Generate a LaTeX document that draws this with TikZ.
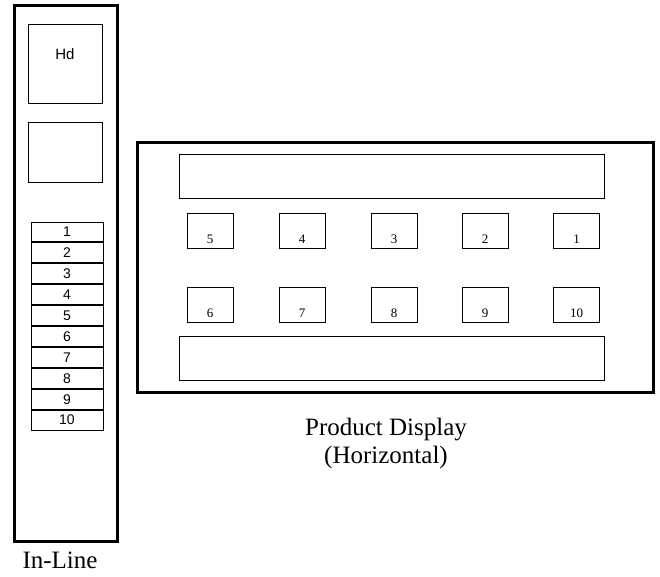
\documentclass[tikz,border=0pt]{standalone}
\usepackage{fontspec}
\setmainfont{Liberation Serif}
\setsansfont{Liberation Sans}
\usetikzlibrary{positioning}

\tikzset{
    frame/.style={draw, line width=3pt},
    panel/.style={draw, line width=1pt, minimum width=74pt, inner sep=0pt},
    cell/.style={draw, line width=1pt, minimum width=72pt, minimum height=19.9pt, inner sep=0pt, font=\sffamily\fontsize{14}{14}\selectfont},
    slot/.style={draw, line width=1pt, minimum width=46pt, minimum height=35pt, inner sep=0pt},
    bar/.style={draw, line width=1pt, minimum width=425pt, minimum height=44pt, inner sep=0pt},
    slotnum/.style={anchor=base, inner sep=0pt, font=\fontsize{13}{13}\selectfont},
    caption/.style={align=center, font=\fontsize{25}{28}\selectfont}
}

\begin{document}
\begin{tikzpicture}[x=1pt, y=-1pt]
    \useasboundingbox (0,0) rectangle (660,577);

    % in-line column
    \draw[frame] (14,6) rectangle (117,541);
    \node[panel, minimum height=79pt] (hd) at (65,64.5) {};
    \node[font=\sffamily\fontsize{15}{15}\selectfont] (hdtext) at (65,54) {Hd};
    \node[panel, minimum height=60pt] (blank) at (65.5,153) {};

    \node[cell] (c1) at (67,232) {1};
    \node[cell, below=0pt of c1] (c2) {2};
    \node[cell, below=0pt of c2] (c3) {3};
    \node[cell, below=0pt of c3] (c4) {4};
    \node[cell, below=0pt of c4] (c5) {5};
    \node[cell, below=0pt of c5] (c6) {6};
    \node[cell, below=0pt of c6] (c7) {7};
    \node[cell, below=0pt of c7] (c8) {8};
    \node[cell, below=0pt of c8] (c9) {9};
    \node[cell, below=0pt of c9] (c10) {10};

    \node[caption] (inline) at (60,560) {In-Line};

    % horizontal display
    \draw[frame] (137,143) rectangle (653,392);
    \node[bar] (topbar) at (391.5,177) {};
    \node[bar] (botbar) at (392,358.5) {};

    \node[slot] (s5) at (210,230.5) {};
    \node[slot] (s4) at (302,230.5) {};
    \node[slot] (s3) at (394,230.5) {};
    \node[slot] (s2) at (485,230.5) {};
    \node[slot] (s1) at (576.5,230.5) {};

    \node[slot] (s6) at (210,304.5) {};
    \node[slot] (s7) at (302,304.5) {};
    \node[slot] (s8) at (394,304.5) {};
    \node[slot] (s9) at (485,304.5) {};
    \node[slot] (s10) at (576.5,304.5) {};

    \node[slotnum] (n5) at ([yshift=5pt]s5.south) {5};
    \node[slotnum] (n4) at ([yshift=5pt]s4.south) {4};
    \node[slotnum] (n3) at ([yshift=5pt]s3.south) {3};
    \node[slotnum] (n2) at ([yshift=5pt]s2.south) {2};
    \node[slotnum] (n1) at ([yshift=5pt]s1.south) {1};
    \node[slotnum] (n6) at ([yshift=5pt]s6.south) {6};
    \node[slotnum] (n7) at ([yshift=5pt]s7.south) {7};
    \node[slotnum] (n8) at ([yshift=5pt]s8.south) {8};
    \node[slotnum] (n9) at ([yshift=5pt]s9.south) {9};
    \node[slotnum] (n10) at ([yshift=5pt]s10.south) {10};

    \node[caption] (product) at (386,443) {Product Display\\(Horizontal)};
\end{tikzpicture}
\end{document}
